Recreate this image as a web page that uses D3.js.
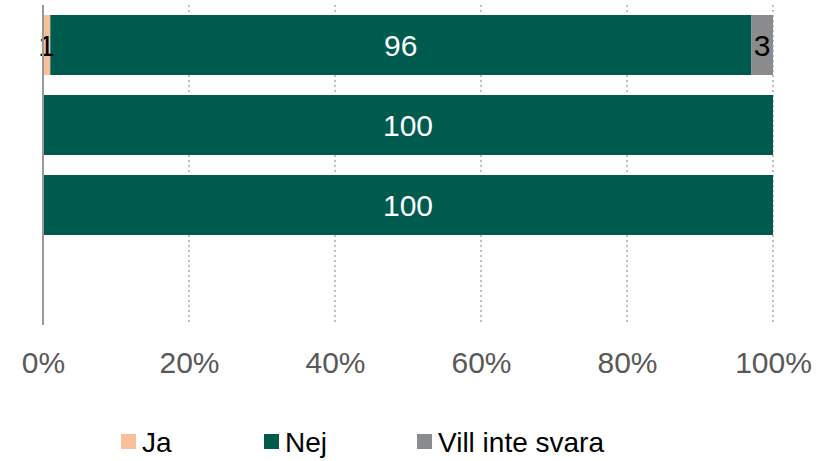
<!DOCTYPE html>
<html>
<head>
<meta charset="utf-8">
<script src="https://cdn.jsdelivr.net/npm/d3@7"></script>
<style>
  body { margin: 0; background: #fff; }
  svg { display: block; font-family: "Liberation Sans", Arial, sans-serif; }
</style>
</head>
<body>
<div id="chart"></div>
<script>
// Chart data
const categories = ["r1", "r2", "r3", "r4"];
const seriesNames = ["Ja", "Nej", "Vill inte svara"];
const jaValues = [1, 0, 0, null];
const nejValues = [96, 100, 100, null];
const villValues = [3, 0, 0, null];
const tickValues = [0, 20, 40, 60, 80, 100];
const colors = ["#F9BF9A", "#005B4F", "#8A8B8D"];
const labelColors = ["#000", "#fff", "#000"];

const width = 823, height = 461;
const margin = { top: 5, left: 43, right: 50, bottom: 136 };

const svg = d3.select("#chart").append("svg")
  .attr("width", width)
  .attr("height", height);

const x = d3.scaleLinear()
  .domain([0, 100])
  .range([margin.left, width - margin.right]);

const y = d3.scaleBand()
  .domain(categories)
  .range([margin.top, height - margin.bottom])
  .paddingInner(0.25)
  .paddingOuter(0.125);

// Gridlines (dotted)
svg.append("g")
  .selectAll("line")
  .data(tickValues.slice(1))
  .join("line")
  .attr("x1", d => x(d)).attr("x2", d => x(d))
  .attr("y1", margin.top).attr("y2", height - margin.bottom)
  .attr("stroke", "#BFBFBF")
  .attr("stroke-width", 2)
  .attr("stroke-dasharray", "2,3");

// Stack the series
const rows = categories.map((c, i) => ({
  cat: c,
  "Ja": jaValues[i] || 0,
  "Nej": nejValues[i] || 0,
  "Vill inte svara": villValues[i] || 0
}));
const stacked = d3.stack().keys(seriesNames)(rows);

const layer = svg.append("g")
  .selectAll("g")
  .data(stacked)
  .join("g")
  .attr("fill", (d, i) => colors[i]);

layer.selectAll("rect")
  .data(d => d.filter(p => p[1] - p[0] > 0))
  .join("rect")
  .attr("x", d => x(d[0]))
  .attr("width", d => x(d[1]) - x(d[0]))
  .attr("y", d => y(d.data.cat))
  .attr("height", y.bandwidth());

// Value labels
stacked.forEach((s, si) => {
  svg.append("g")
    .selectAll("text")
    .data(s.filter(p => p[1] - p[0] > 0))
    .join("text")
    .attr("x", d => x((d[0] + d[1]) / 2))
    .attr("y", d => y(d.data.cat) + y.bandwidth() / 2)
    .attr("dy", "0.36em")
    .attr("text-anchor", "middle")
    .attr("font-size", 30)
    .attr("fill", labelColors[si])
    .text(d => d[1] - d[0]);
});

// Vertical axis line
svg.append("line")
  .attr("x1", x(0)).attr("x2", x(0))
  .attr("y1", margin.top).attr("y2", height - margin.bottom)
  .attr("stroke", "#999")
  .attr("stroke-width", 2);

// X axis tick labels
const xAxis = svg.append("g")
  .attr("transform", `translate(0,${height - margin.bottom})`)
  .call(d3.axisBottom(x).tickValues(tickValues).tickFormat(d => d + "%").tickSize(0).tickPadding(27));
xAxis.select(".domain").remove();
xAxis.selectAll("text")
  .attr("font-size", 30)
  .attr("font-family", "\"Liberation Sans\", Arial, sans-serif")
  .attr("fill", "#595959");

// Legend
const legendX = [121, 264, 417];
const legend = svg.append("g")
  .selectAll("g")
  .data(seriesNames)
  .join("g")
  .attr("transform", (d, i) => `translate(${legendX[i]},434)`);
legend.append("rect")
  .attr("width", 15).attr("height", 15)
  .attr("fill", (d, i) => colors[i]);
legend.append("text")
  .attr("x", 21)
  .attr("y", 18)
  .attr("font-size", 28)
  .attr("fill", "#000")
  .text(d => d);
</script>
</body>
</html>
